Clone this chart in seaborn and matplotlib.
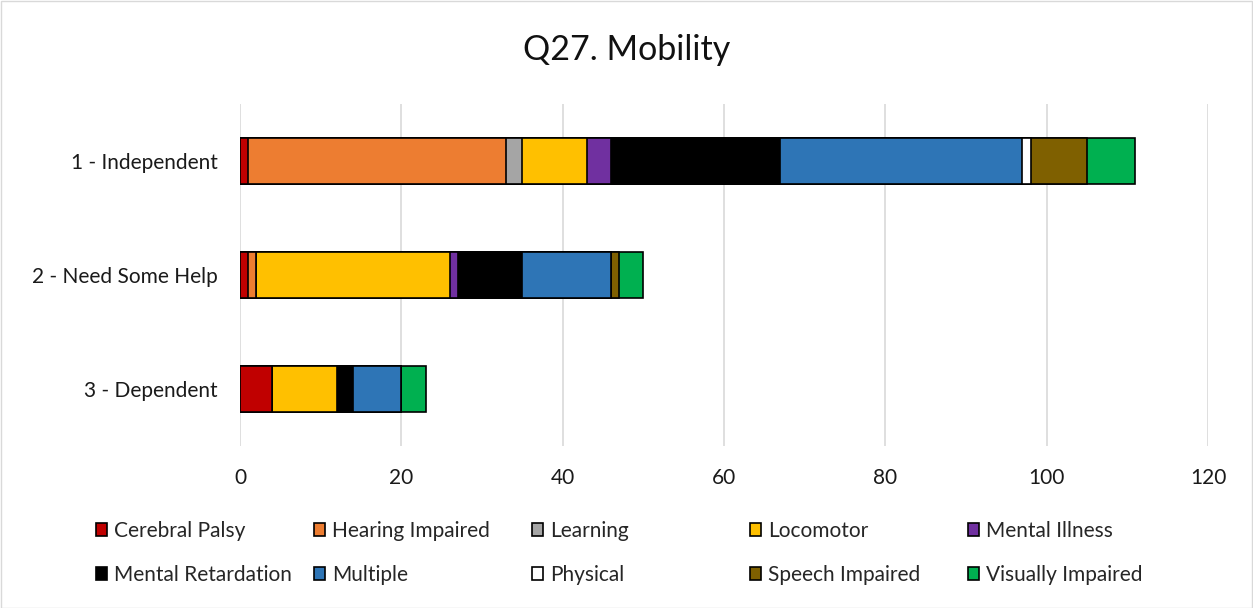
import numpy as np
import pandas as pd
import matplotlib
matplotlib.use("Agg")
import matplotlib.pyplot as plt
from matplotlib.patches import Patch, Rectangle
import seaborn as sns

# Data
categories = ["1 - Independent", "2 - Need Some Help", "3 - Dependent"]
series = ["Cerebral Palsy", "Hearing Impaired", "Learning", "Locomotor", "Mental Illness",
          "Mental Retardation", "Multiple", "Physical", "Speech Impaired", "Visually Impaired"]
cerebral_palsy = [1, 1, 4]
hearing_impaired = [32, 1, 0]
learning = [2, 0, 0]
locomotor = [8, 24, 8]
mental_illness = [3, 1, 0]
mental_retardation = [21, 8, 2]
multiple = [30, 11, 6]
physical = [1, 0, 0]
speech_impaired = [7, 1, 0]
visually_impaired = [6, 3, 3]
colors = ["#C00000", "#ED7D31", "#A5A5A5", "#FFC000", "#7030A0",
          "#000000", "#2E75B6", "#FFFFFF", "#7F6000", "#00B050"]

df = pd.DataFrame({
    "Cerebral Palsy": cerebral_palsy,
    "Hearing Impaired": hearing_impaired,
    "Learning": learning,
    "Locomotor": locomotor,
    "Mental Illness": mental_illness,
    "Mental Retardation": mental_retardation,
    "Multiple": multiple,
    "Physical": physical,
    "Speech Impaired": speech_impaired,
    "Visually Impaired": visually_impaired,
}, index=categories)
cum = df.cumsum(axis=1)

sns.set_style("white")
plt.rcParams["font.family"] = ["Lato", "DejaVu Sans"]

fig = plt.figure(figsize=(12.53, 6.08), dpi=100)
ax = fig.add_axes([240 / 1253, 1 - 446 / 608, 968 / 1253, 342 / 608])

# stacked bars: draw cumulative totals from the last series back to the first
for name, col in reversed(list(zip(series, colors))):
    sns.barplot(x=cum[name].values, y=categories, orient="h", color=col,
                width=0.4, edgecolor="black", linewidth=1.2, saturation=1, ax=ax)

ax.set_xlim(0, 120)
ax.set_xticks(range(0, 121, 20))
ax.xaxis.grid(True, color="#D9D9D9", linewidth=1.2)
ax.set_axisbelow(True)
for s in ax.spines.values():
    s.set_visible(False)
ax.tick_params(axis="both", length=0, labelsize=15, colors="#1a1a1a")
ax.tick_params(axis="y", pad=16)
ax.tick_params(axis="x", pad=16)
ax.set_xlabel("")
ax.set_ylabel("")

fig.text(0.5, 1 - 50 / 608, "Q27. Mobility", ha="center", va="center", fontsize=24.5, color="#111111")

# legend: five equally spaced columns, two rows, read left to right
col_x = [96, 314, 532, 750, 968]
for j, x in enumerate(col_x):
    idx = [j, j + 5]
    hs = [Patch(facecolor=colors[i], edgecolor="black", linewidth=1.2) for i in idx]
    fig.legend(hs, [series[i] for i in idx], loc="center left",
               bbox_to_anchor=(x / 1253, 1 - 553 / 608), frameon=False, fontsize=15,
               handlelength=0.55, handleheight=0.55, handletextpad=0.3,
               labelspacing=1.15, borderpad=0, borderaxespad=0)

fig.patches.append(Rectangle((0.5 / 1253, 0.5 / 608), 1 - 1.5 / 1253, 1 - 1.5 / 608,
                             transform=fig.transFigure, fill=False, edgecolor="#D9D9D9", linewidth=1))

fig.savefig("out.png", dpi=100)
